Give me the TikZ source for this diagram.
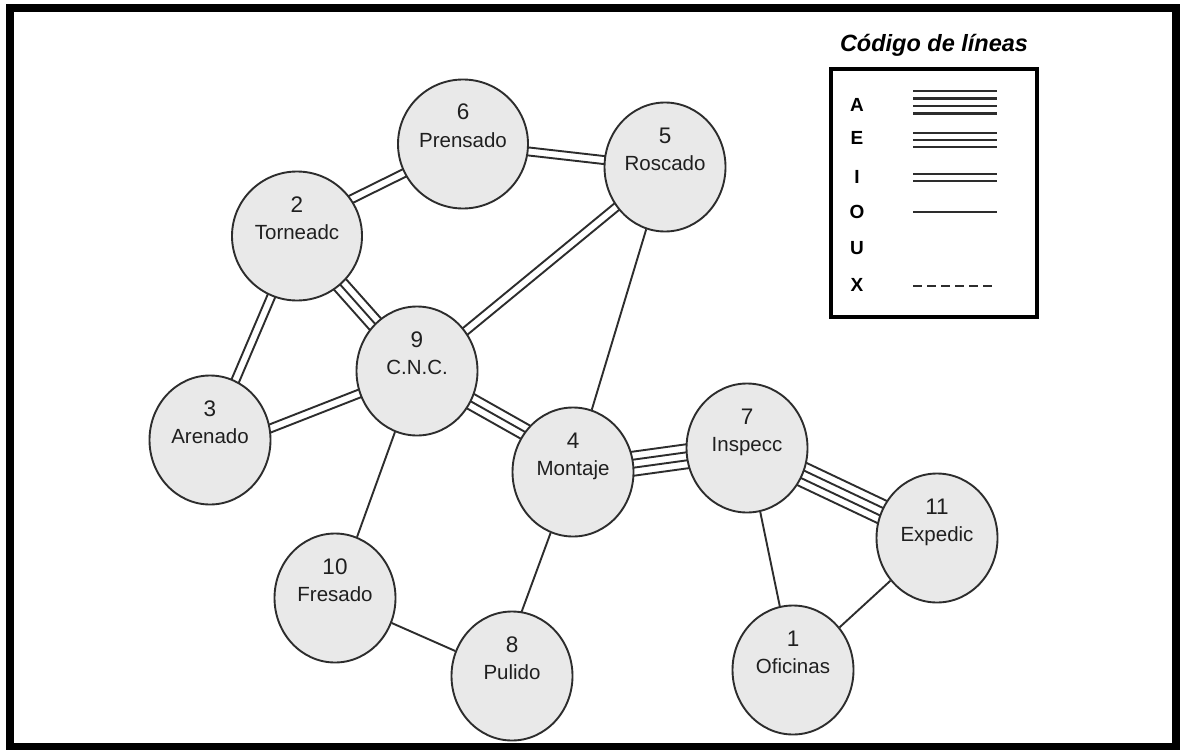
\documentclass[tikz,border=0pt]{standalone}
\usepackage{fontspec}
\setmainfont{Liberation Sans}
\usetikzlibrary{calc,shapes.geometric,backgrounds}
\definecolor{nodefill}{RGB}{233,233,233}
\definecolor{edgecol}{RGB}{45,45,45}
\tikzset{
  station/.style={ellipse, draw=edgecol, line width=1.9pt, fill=nodefill,
    minimum width=121pt, minimum height=129pt, inner sep=0pt},
  bigstation/.style={station, minimum width=130pt},
  numlab/.style={font=\fontsize{22.5}{26}\selectfont, text=black!88, inner sep=0pt, anchor=base},
  namelab/.style={font=\fontsize{20.5}{24}\selectfont, text=black!88, inner sep=0pt, anchor=base},
  conn/.style={draw=edgecol, line width=1.9pt},
  legline/.style={draw=edgecol, line width=2.2pt},
  legletter/.style={font=\fontsize{19}{21}\selectfont\bfseries, inner sep=0pt},
  legtitle/.style={font=\fontsize{23.5}{26}\selectfont\bfseries\itshape, inner sep=0pt},
}
\newcommand{\station}[6]{%
  \node[#6] (#1) at (#2,#3) {};
  \node[numlab] (#1num) at ($(#1)+(0,-24)$) {#4};
  \node[namelab] (#1name) at ($(#1)+(0,3.5)$) {#5};}
\newcommand{\multilink}[3]{%
  \foreach \o in {#3}{\draw[conn] ($(#1)!\o pt!90:(#2)$) -- ($(#2)!\o pt!-90:(#1)$);}}
\begin{document}
\begin{tikzpicture}[x=1pt,y=-1pt]
\useasboundingbox (0,0) rectangle (1182,749);
% stations
\station{n6}{463}{144}{6}{Prensado}{bigstation}
\station{n5}{665}{167}{5}{Roscado}{station}
\station{n2}{297}{236}{2}{Torneadc}{bigstation}
\station{n9}{417}{371}{9}{C.N.C.}{station}
\station{n3}{210}{440}{3}{Arenado}{station}
\station{n4}{573}{472}{4}{Montaje}{station}
\station{n7}{747}{448}{7}{Inspecc}{station}
\station{n11}{937}{538}{11}{Expedic}{station}
\station{n10}{335}{598}{10}{Fresado}{station}
\station{n8}{512}{676}{8}{Pulido}{station}
\station{n1}{793}{670}{1}{Oficinas}{station}
\coordinate (c2a) at ($(n2)+(0,-10)$);
\coordinate (c3a) at ($(n3)+(0,12)$);
\coordinate (c4a) at ($(n4)+(0,-13)$);
\coordinate (c8a) at ($(n8)+(-14,0)$);
% connectors
\begin{scope}[on background layer]
  \fill[white] (0,0) rectangle (1182,749);
  \multilink{c2a}{n6}{-4,4}
  \multilink{n6}{n5}{-4,4}
  \multilink{n2}{n9}{-8,0,8}
  \multilink{n2}{n3}{-4,4}
  \multilink{c3a}{n9}{-4,4}
  \multilink{n9}{n5}{-4,4}
  \multilink{n9}{c4a}{-8,0,8}
  \multilink{n4}{n7}{-12,-4,4,12}
  \multilink{n7}{n11}{-12,-4,4,12}
  \draw[conn] (n5) -- (n4);
  \draw[conn] (n9) -- (n10);
  \draw[conn] (n10) -- (n8);
  \draw[conn] (c8a) -- (n4);
  \draw[conn] (n7) -- (n1);
  \draw[conn] (n1) -- (n11);
\end{scope}
% legend
\node[legtitle] (title) at (934,45) {Código de líneas};
\node[draw=black, line width=3.3pt, minimum width=206pt, minimum height=248pt, inner sep=0pt] (legend) at (934,193) {};
\node[legletter] (lA) at (857,105) {A};
\node[legletter] (lE) at (857,138) {E};
\node[legletter] (lI) at (857,177) {I};
\node[legletter] (lO) at (857,212) {O};
\node[legletter] (lU) at (857,248) {U};
\node[legletter] (lX) at (857,285) {X};
\foreach \yy in {91,98.5,106,113.5} \draw[legline] (913,\yy) -- (997,\yy);
\foreach \yy in {133,140,147} \draw[legline] (913,\yy) -- (997,\yy);
\foreach \yy in {174,181} \draw[legline] (913,\yy) -- (997,\yy);
\draw[legline] (913,212) -- (997,212);
\draw[legline, dash pattern=on 9pt off 5pt] (913,286) -- (995,286);
% frame
\draw[line width=8pt] (10,8) rectangle (1176,747);
\end{tikzpicture}
\end{document}
